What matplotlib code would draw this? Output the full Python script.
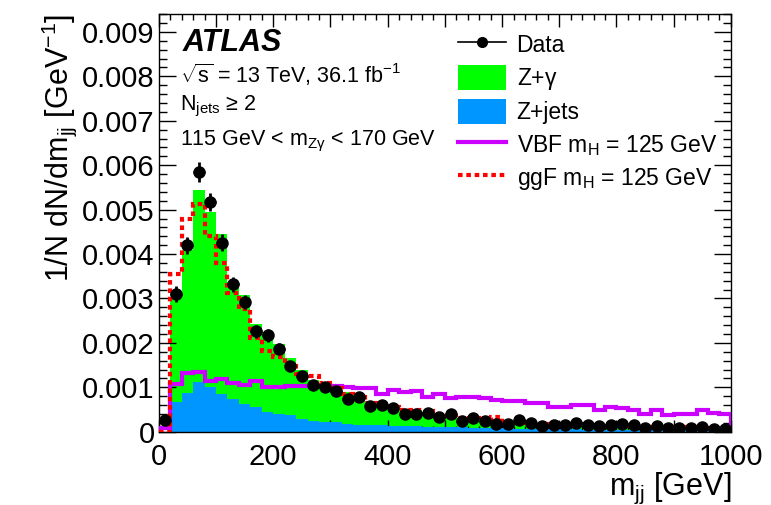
import numpy as np
import matplotlib
matplotlib.use("Agg")
import matplotlib.pyplot as plt
from matplotlib.ticker import MultipleLocator, FuncFormatter
from matplotlib.lines import Line2D
from matplotlib.patches import Patch

plt.rcParams['font.family'] = ['Liberation Sans', 'DejaVu Sans']
plt.rcParams['mathtext.fontset'] = 'custom'
plt.rcParams['mathtext.rm'] = 'Liberation Sans'
plt.rcParams['mathtext.it'] = 'Liberation Sans:italic'
plt.rcParams['mathtext.default'] = 'regular'

# m_jj binning: 50 bins of 20 GeV
edges = np.arange(0, 1001, 20)

# normalised distributions, in units of 1e-3 / GeV
zjets = [0.0, 0.68, 0.88, 1.11, 1.00, 0.85, 0.73, 0.62, 0.55, 0.44,
         0.39, 0.37, 0.28, 0.25, 0.23, 0.21, 0.17, 0.16, 0.15, 0.15,
         0.14, 0.12, 0.12, 0.11, 0.11, 0.10, 0.10, 0.09, 0.09, 0.08,
         0.08, 0.07, 0.07, 0.07, 0.06, 0.06, 0.06, 0.05, 0.05, 0.05,
         0.05, 0.04, 0.04, 0.04, 0.04, 0.03, 0.03, 0.03, 0.03, 0.03]
zgamma = [0.0, 2.32, 3.22, 4.33, 3.95, 3.60, 2.65, 2.45, 1.88, 1.81,
          1.59, 1.29, 1.11, 0.91, 0.82, 0.77, 0.72, 0.68, 0.50, 0.49,
          0.46, 0.37, 0.36, 0.34, 0.27, 0.24, 0.20, 0.18, 0.16, 0.14,
          0.13, 0.14, 0.12, 0.10, 0.10, 0.10, 0.09, 0.09, 0.08, 0.07,
          0.07, 0.07, 0.06, 0.06, 0.05, 0.06, 0.05, 0.05, 0.04, 0.04]
vbf = [0.08, 1.07, 1.33, 1.35, 1.15, 1.18, 1.09, 1.05, 1.14, 1.00,
       1.00, 1.03, 1.03, 1.03, 1.05, 1.03, 1.00, 0.99, 0.99, 0.86,
       0.95, 0.90, 0.92, 0.79, 0.84, 0.77, 0.79, 0.78, 0.76, 0.71,
       0.70, 0.70, 0.64, 0.64, 0.56, 0.56, 0.60, 0.60, 0.49, 0.56,
       0.53, 0.49, 0.40, 0.48, 0.38, 0.41, 0.41, 0.49, 0.43, 0.41]
ggf = [0.0, 3.55, 4.80, 5.12, 4.40, 3.80, 3.12, 2.77, 2.10, 1.81,
       1.69, 1.48, 1.31, 1.26, 1.10, 0.98, 0.84, 0.79, 0.64, 0.62,
       0.55, 0.48, 0.48, 0.46, 0.40, 0.36, 0.30, 0.30, 0.26, 0.34,
       0.22, 0.22, 0.19, 0.17, 0.17, 0.16, 0.17, 0.15, 0.14, 0.14,
       0.15, 0.13, 0.11, 0.11, 0.10, 0.10, 0.09, 0.09, 0.08, 0.08]
data = [0.26, 3.10, 4.20, 5.85, 5.17, 4.26, 3.32, 2.92, 2.26, 2.17,
        1.87, 1.48, 1.25, 1.05, 1.01, 0.92, 0.73, 0.78, 0.58, 0.60,
        0.54, 0.41, 0.41, 0.43, 0.33, 0.39, 0.24, 0.30, 0.25, 0.17,
        0.17, 0.26, 0.19, 0.12, 0.15, 0.15, 0.19, 0.15, 0.12, 0.15,
        0.17, 0.16, 0.08, 0.12, 0.08, 0.08, 0.08, 0.10, 0.07, 0.06]
data_err = [0.07, 0.17, 0.19, 0.22, 0.21, 0.19, 0.17, 0.16, 0.14, 0.14,
            0.13, 0.12, 0.11, 0.10, 0.10, 0.09, 0.08, 0.09, 0.08, 0.08,
            0.07, 0.06, 0.06, 0.06, 0.06, 0.06, 0.05, 0.05, 0.05, 0.04,
            0.04, 0.05, 0.04, 0.04, 0.04, 0.04, 0.04, 0.04, 0.04, 0.04,
            0.04, 0.04, 0.03, 0.03, 0.03, 0.03, 0.03, 0.03, 0.03, 0.03]

scale = 1e-3
zjets = np.array(zjets) * scale
zgamma = np.array(zgamma) * scale
vbf = np.array(vbf) * scale
ggf = np.array(ggf) * scale
data = np.array(data) * scale
data_err = np.array(data_err) * scale
centers = 0.5 * (edges[:-1] + edges[1:])

green = '#00ff00'
blue = '#0096ff'
purple = '#cc00ff'
red = '#ff0000'
dots = (0, (1.1, 0.9))

fig = plt.figure(figsize=(7.71, 5.05), dpi=100)
ax = fig.add_axes([0.206, 0.145, 0.742, 0.827])

# stacked backgrounds: Z+gamma on top of Z+jets
ax.stairs(zjets + zgamma, edges, fill=True, color=green, zorder=1)
ax.stairs(zjets, edges, fill=True, color=blue, zorder=2)
ax.stairs(vbf, edges, color=purple, lw=3, zorder=3)
ax.stairs(ggf, edges, color=red, lw=3, linestyle=dots, zorder=4)
ax.errorbar(centers, data, yerr=data_err, xerr=10, fmt='o', color='black',
            ms=8, elinewidth=2, capsize=0, zorder=5)

ax.set_xlim(0, 1000)
ax.set_ylim(0, 0.0094)

ax.xaxis.set_major_locator(MultipleLocator(100))
ax.xaxis.set_minor_locator(MultipleLocator(20))
ax.xaxis.set_major_formatter(FuncFormatter(
    lambda v, p: '%d' % v if int(round(v)) % 200 == 0 else ''))
ax.yaxis.set_major_locator(MultipleLocator(0.001))
ax.yaxis.set_minor_locator(MultipleLocator(0.0002))
ax.yaxis.set_major_formatter(FuncFormatter(
    lambda v, p: '0' if abs(v) < 1e-9 else '%.3f' % v))

ax.tick_params(which='both', direction='in', top=True, right=True,
               labelsize=21, width=1.0)
ax.tick_params(axis='x', which='major', length=9, pad=8)
ax.tick_params(axis='x', which='minor', length=4.5)
ax.tick_params(axis='y', which='major', length=12, pad=3)
ax.tick_params(axis='y', which='minor', length=6)
for s in ax.spines.values():
    s.set_linewidth(1.0)

ax.set_xlabel('m$_{jj}$ [GeV]', fontsize=22, loc='right', labelpad=0)
ax.set_ylabel('1/N dN/dm$_{jj}$ [GeV$^{-1}$]', fontsize=22, loc='top',
              labelpad=2)

ax.text(0.042, 0.967, 'ATLAS', transform=ax.transAxes, fontsize=22,
        fontweight='bold', fontstyle='italic', va='top')
ax.text(0.037, 0.855, r'$\sqrt{s}$ = 13 TeV, 36.1 fb$^{-1}$',
        transform=ax.transAxes, fontsize=15.5, va='center')
ax.text(0.037, 0.778, 'N$_{jets}$ \u2265 2', transform=ax.transAxes,
        fontsize=15.5, va='center')
ax.text(0.037, 0.694, r'115 GeV < m$_{Z\gamma}$ < 170 GeV',
        transform=ax.transAxes, fontsize=15.5, va='center')

handles = [
    Line2D([], [], color='black', marker='o', ms=7, lw=1.2),
    Patch(facecolor=green),
    Patch(facecolor=blue),
    Line2D([], [], color=purple, lw=3),
    Line2D([], [], color=red, lw=3, linestyle=dots),
]
labels = ['Data', r'Z+$\gamma$', 'Z+jets', 'VBF m$_H$ = 125 GeV',
          'ggF m$_H$ = 125 GeV']
ax.legend(handles, labels, loc='upper right', bbox_to_anchor=(1.0, 0.99),
          frameon=False, fontsize=16.5, handlelength=2.1, handleheight=1.3,
          labelspacing=0.32, handletextpad=0.45, borderaxespad=0.2)

fig.savefig('out.png', dpi=100)
